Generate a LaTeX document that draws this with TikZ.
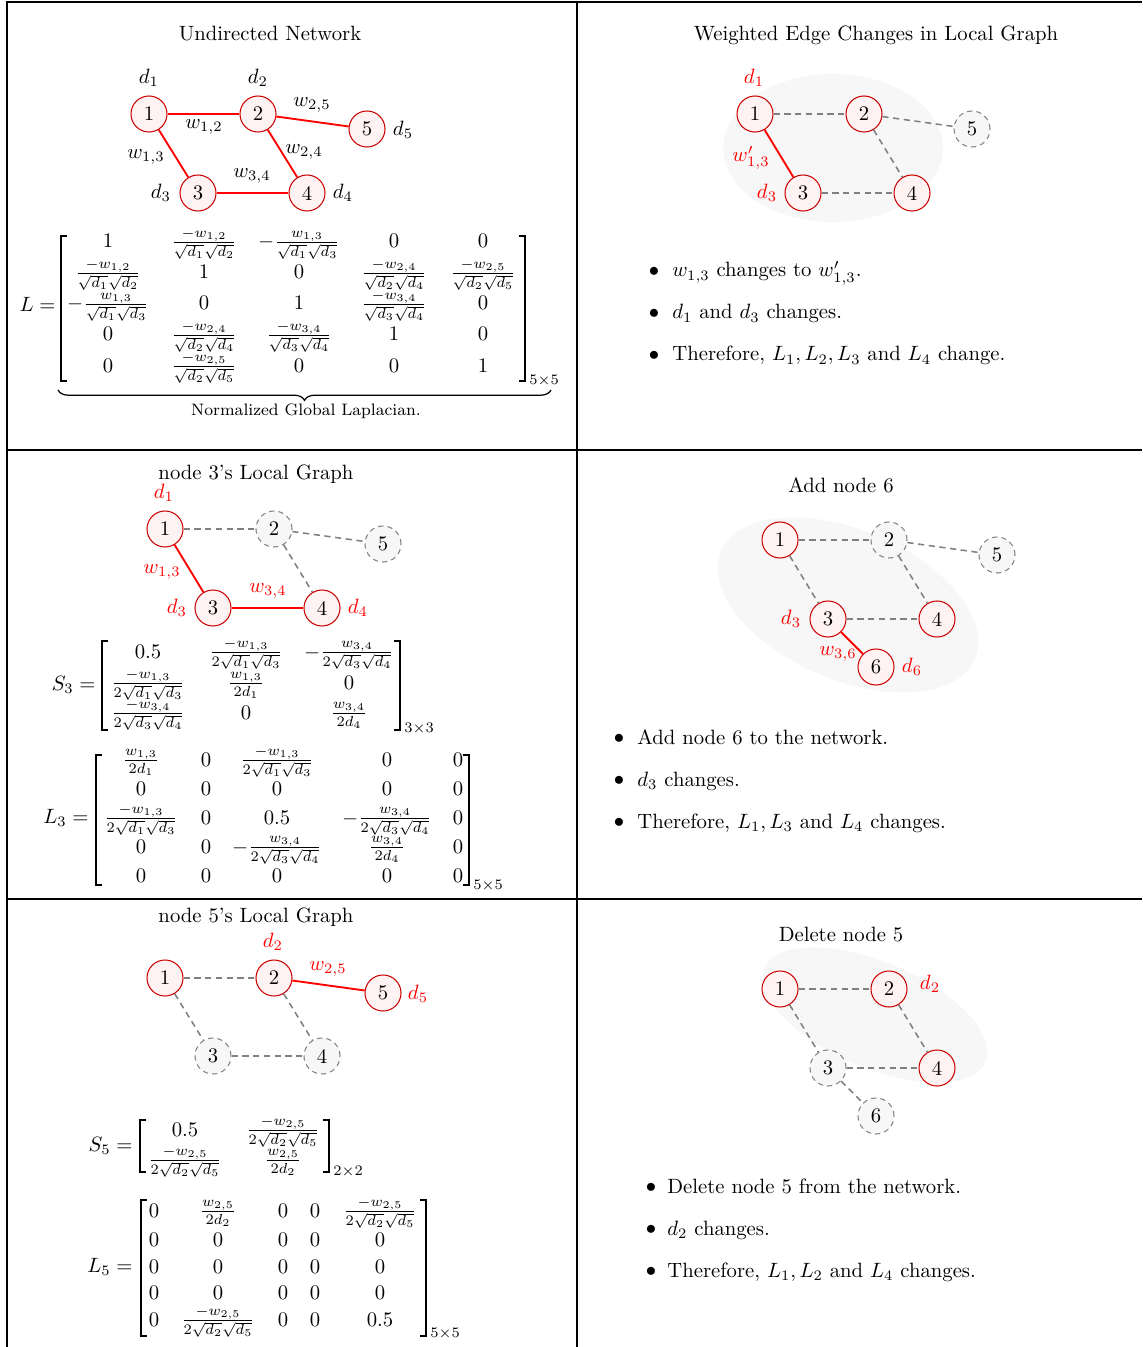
\documentclass[tikz,border=0pt]{standalone}
\usetikzlibrary{decorations.pathreplacing}
\newcommand\fq[3]{\frac{#1}{\sqrt{d_{#2}}\sqrt{d_{#3}}}}
\newcommand\fh[3]{\frac{#1}{2\sqrt{d_{#2}}\sqrt{d_{#3}}}}
\begin{document}
\begin{tikzpicture}[x=0.483pt,y=-0.483pt,
 nd/.style={circle,draw=red!80!black,fill=red!5,minimum size=17.4pt,inner sep=0pt,line width=0.5pt},
 dn/.style={circle,draw=gray,dash pattern=on 2.5pt off 2pt,fill=gray!6,minimum size=17.4pt,inner sep=0pt,line width=0.5pt},
 re/.style={red,line width=0.9pt},
 de/.style={gray,dash pattern=on 3pt off 2.2pt,line width=0.75pt},
 lb/.style={inner sep=0pt},
 rl/.style={text=red,inner sep=0pt},
 en/.style={anchor=base,inner sep=0pt},
 tt/.style={anchor=base,inner sep=0pt},
 bl/.style={anchor=base west,inner sep=0pt},
 bu/.style={inner sep=0pt},
 fr/.style={line width=0.5pt},
 bg/.style={fill=black!3},
 brk/.style={line width=0.9pt},
 sb/.style={anchor=west,inner sep=0pt}
]
\useasboundingbox (0,0) rectangle (1142,1347);
% frame
\draw[fr] (7,1347) -- (7,2) -- (1142,2);
\draw[fr] (577,2) -- (577,1347);
\draw[fr] (7,450) -- (1142,450);
\draw[fr] (7,899) -- (1142,899);

% ================= top-left =================
\node[tt] (t1) at (270,41) {Undirected Network};
\node[nd] (a1) at (149,114) {1};
\node[nd] (a2) at (258,114) {2};
\node[nd] (a5) at (367,129) {5};
\node[nd] (a3) at (198,193) {3};
\node[nd] (a4) at (307,193) {4};
\draw[re] (a1) -- (a2);
\draw[re] (a2) -- (a5);
\draw[re] (a1) -- (a3);
\draw[re] (a2) -- (a4);
\draw[re] (a3) -- (a4);
\node[lb] (ad1) at (149,78) {$d_1$};
\node[lb] (ad2) at (258,78) {$d_2$};
\node[lb] (ad5) at (403,130) {$d_5$};
\node[lb] (ad3) at (161,193) {$d_3$};
\node[lb] (ad4) at (343,193) {$d_4$};
\node[lb] (aw12) at (204,127) {$w_{1,2}$};
\node[lb] (aw25) at (312,105) {$w_{2,5}$};
\node[lb] (aw13) at (146,157) {$w_{1,3}$};
\node[lb] (aw24) at (304,152) {$w_{2,4}$};
\node[lb] (aw34) at (252,176) {$w_{3,4}$};
% matrix L
\node[anchor=base east,inner sep=0pt] (Lname) at (56,312) {$L=$};
\draw[brk] (67,236) -- (61,236) -- (61,381) -- (67,381);
\draw[brk] (519,236) -- (525,236) -- (525,381) -- (519,381);
\node[sb] (Lsub) at (529,381) {$\scriptstyle 5\times5$};
\node[en] (L11) at (108,248) {$1$};
\node[en] (L12) at (204,248) {$\fq{-w_{1,2}}{1}{2}$};
\node[en] (L13) at (299,248) {$-\fq{w_{1,3}}{1}{3}$};
\node[en] (L14) at (394,248) {$0$};
\node[en] (L15) at (483,248) {$0$};
\node[en] (L21) at (108,279) {$\fq{-w_{1,2}}{1}{2}$};
\node[en] (L22) at (204,279) {$1$};
\node[en] (L23) at (299,279) {$0$};
\node[en] (L24) at (394,279) {$\fq{-w_{2,4}}{2}{4}$};
\node[en] (L25) at (483,279) {$\fq{-w_{2,5}}{2}{5}$};
\node[en] (L31) at (108,310) {$-\fq{w_{1,3}}{1}{3}$};
\node[en] (L32) at (204,310) {$0$};
\node[en] (L33) at (299,310) {$1$};
\node[en] (L34) at (394,310) {$\fq{-w_{3,4}}{3}{4}$};
\node[en] (L35) at (483,310) {$0$};
\node[en] (L41) at (108,341) {$0$};
\node[en] (L42) at (204,341) {$\fq{-w_{2,4}}{2}{4}$};
\node[en] (L43) at (299,341) {$\fq{-w_{3,4}}{3}{4}$};
\node[en] (L44) at (394,341) {$1$};
\node[en] (L45) at (483,341) {$0$};
\node[en] (L51) at (108,372) {$0$};
\node[en] (L52) at (204,372) {$\fq{-w_{2,5}}{2}{5}$};
\node[en] (L53) at (299,372) {$0$};
\node[en] (L54) at (394,372) {$0$};
\node[en] (L55) at (483,372) {$1$};
\coordinate (bra) at (58,390);
\coordinate (brb) at (551,390);
\draw[decorate,decoration={brace,mirror,amplitude=5pt},line width=0.6pt] (bra) -- (brb);
\node[lb,font=\footnotesize] (brl) at (306,411) {Normalized Global Laplacian.};

% ================= top-right =================
\fill[bg] (833,148) ellipse [x radius=110, y radius=74];
\node[tt] (t2) at (876,41) {Weighted Edge Changes in Local Graph};
\node[nd] (b1) at (755,114) {1};
\node[nd] (b2) at (864,114) {2};
\node[dn] (b5) at (972,129) {5};
\node[nd] (b3) at (803,193) {3};
\node[nd] (b4) at (912,193) {4};
\draw[de] (b1) -- (b2);
\draw[de] (b2) -- (b5);
\draw[de] (b2) -- (b4);
\draw[de] (b3) -- (b4);
\draw[re] (b1) -- (b3);
\node[rl] (bd1) at (754,78) {$d_1$};
\node[rl] (bw13) at (751,158) {$w'_{1,3}$};
\node[rl] (bd3) at (767,193) {$d_3$};
\node[bu] (bu1) at (654,272) {$\bullet$};
\node[bu] (bu2) at (654,314) {$\bullet$};
\node[bu] (bu3) at (654,356) {$\bullet$};
\node[bl] (bb1) at (672,277) {$w_{1,3}$ changes to $w'_{1,3}$.};
\node[bl] (bb2) at (672,319) {$d_1$ and $d_3$ changes.};
\node[bl] (bb3) at (672,361) {Therefore, $L_1, L_2, L_3$ and $L_4$ change.};

% ================= middle-left =================
\node[tt] (t3) at (256,479) {node 3's Local Graph};
\node[nd] (c1) at (165,529) {1};
\node[dn] (c2) at (274,529) {2};
\node[dn] (c5) at (383,544) {5};
\node[nd] (c3) at (213,608) {3};
\node[nd] (c4) at (322,608) {4};
\draw[de] (c1) -- (c2);
\draw[de] (c2) -- (c5);
\draw[de] (c2) -- (c4);
\draw[re] (c1) -- (c3);
\draw[re] (c3) -- (c4);
\node[rl] (cd1) at (164,493) {$d_1$};
\node[rl] (cw13) at (162,572) {$w_{1,3}$};
\node[rl] (cw34) at (268,591) {$w_{3,4}$};
\node[rl] (cd3) at (177,608) {$d_3$};
\node[rl] (cd4) at (358,608) {$d_4$};
% S3
\node[anchor=base east,inner sep=0pt] (S3name) at (96,690) {$S_3=$};
\draw[brk] (108,641) -- (102,641) -- (102,730) -- (108,730);
\draw[brk] (394,641) -- (400,641) -- (400,730) -- (394,730);
\node[sb] (S3sub) at (404,729) {$\scriptstyle 3\times3$};
\node[en] (S11) at (148,658) {$0.5$};
\node[en] (S12) at (246,658) {$\fh{-w_{1,3}}{1}{3}$};
\node[en] (S13) at (349,658) {$-\fh{w_{3,4}}{3}{4}$};
\node[en] (S21) at (148,689) {$\fh{-w_{1,3}}{1}{3}$};
\node[en] (S22) at (246,689) {$\frac{w_{1,3}}{2d_1}$};
\node[en] (S23) at (349,689) {$0$};
\node[en] (S31) at (148,719) {$\fh{-w_{3,4}}{3}{4}$};
\node[en] (S32) at (246,719) {$0$};
\node[en] (S33) at (349,719) {$\frac{w_{3,4}}{2d_4}$};
% L3
\node[anchor=base east,inner sep=0pt] (L3name) at (89,823) {$L_3=$};
\draw[brk] (102,755) -- (96,755) -- (96,885) -- (102,885);
\draw[brk] (463,755) -- (469,755) -- (469,885) -- (463,885);
\node[sb] (L3sub) at (473,886) {$\scriptstyle 5\times5$};
\node[en] (M11) at (141,766) {$\frac{w_{1,3}}{2d_1}$};
\node[en] (M12) at (206,766) {$0$};
\node[en] (M13) at (277,766) {$\fh{-w_{1,3}}{1}{3}$};
\node[en] (M14) at (387,766) {$0$};
\node[en] (M15) at (458,766) {$0$};
\node[en] (M21) at (141,795) {$0$};
\node[en] (M22) at (206,795) {$0$};
\node[en] (M23) at (277,795) {$0$};
\node[en] (M24) at (387,795) {$0$};
\node[en] (M25) at (458,795) {$0$};
\node[en] (M31) at (141,824) {$\fh{-w_{1,3}}{1}{3}$};
\node[en] (M32) at (206,824) {$0$};
\node[en] (M33) at (277,824) {$0.5$};
\node[en] (M34) at (387,824) {$-\fh{w_{3,4}}{3}{4}$};
\node[en] (M35) at (458,824) {$0$};
\node[en] (M41) at (141,853) {$0$};
\node[en] (M42) at (206,853) {$0$};
\node[en] (M43) at (277,853) {$-\fh{w_{3,4}}{3}{4}$};
\node[en] (M44) at (387,853) {$\frac{w_{3,4}}{2d_4}$};
\node[en] (M45) at (458,853) {$0$};
\node[en] (M51) at (141,882) {$0$};
\node[en] (M52) at (206,882) {$0$};
\node[en] (M53) at (277,882) {$0$};
\node[en] (M54) at (387,882) {$0$};
\node[en] (M55) at (458,882) {$0$};

% ================= middle-right =================
\fill[bg,rotate around={-23:(848,605)}] (848,605) ellipse [x radius=138, y radius=75];
\node[tt] (t4) at (841,492) {Add node 6};
\node[nd] (e1) at (780,540) {1};
\node[dn] (e2) at (889,540) {2};
\node[dn] (e5) at (997,555) {5};
\node[nd] (e3) at (828,619) {3};
\node[nd] (e4) at (937,619) {4};
\node[nd] (e6) at (876,667) {6};
\draw[de] (e1) -- (e2);
\draw[de] (e2) -- (e5);
\draw[de] (e1) -- (e3);
\draw[de] (e2) -- (e4);
\draw[de] (e3) -- (e4);
\draw[re] (e3) -- (e6);
\node[rl] (ed3) at (791,619) {$d_3$};
\node[rl] (ew36) at (838,654) {$w_{3,6}$};
\node[rl] (ed6) at (912,667) {$d_6$};
\node[bu] (eu1) at (619,739) {$\bullet$};
\node[bu] (eu2) at (619,781) {$\bullet$};
\node[bu] (eu3) at (619,823) {$\bullet$};
\node[bl] (eb1) at (637,744) {Add node 6 to the network.};
\node[bl] (eb2) at (637,786) {$d_3$ changes.};
\node[bl] (eb3) at (637,828) {Therefore, $L_1, L_3$ and $L_4$ changes.};

% ================= bottom-left =================
\node[tt] (t5) at (256,922) {node 5's Local Graph};
\node[nd] (f1) at (165,978) {1};
\node[nd] (f2) at (274,978) {2};
\node[nd] (f5) at (383,993) {5};
\node[dn] (f3) at (213,1056) {3};
\node[dn] (f4) at (322,1056) {4};
\draw[de] (f1) -- (f2);
\draw[de] (f1) -- (f3);
\draw[de] (f2) -- (f4);
\draw[de] (f3) -- (f4);
\draw[re] (f2) -- (f5);
\node[rl] (fd2) at (273,942) {$d_2$};
\node[rl] (fw25) at (328,969) {$w_{2,5}$};
\node[rl] (fd5) at (418,994) {$d_5$};
% S5
\node[anchor=base east,inner sep=0pt] (S5name) at (133,1151) {$S_5=$};
\draw[brk] (146,1120) -- (140,1120) -- (140,1172) -- (146,1172);
\draw[brk] (323,1120) -- (329,1120) -- (329,1172) -- (323,1172);
\node[sb] (S5sub) at (333,1172) {$\scriptstyle 2\times2$};
\node[en] (T11) at (185,1136) {$0.5$};
\node[en] (T12) at (283,1136) {$\fh{-w_{2,5}}{2}{5}$};
\node[en] (T21) at (185,1166) {$\fh{-w_{2,5}}{2}{5}$};
\node[en] (T22) at (283,1166) {$\frac{w_{2,5}}{2d_2}$};
% L5
\node[anchor=base east,inner sep=0pt] (L5name) at (133,1272) {$L_5=$};
\draw[brk] (147,1200) -- (141,1200) -- (141,1336) -- (147,1336);
\draw[brk] (420,1200) -- (426,1200) -- (426,1336) -- (420,1336);
\node[sb] (L5sub) at (430,1334) {$\scriptstyle 5\times5$};
\node[en] (N11) at (154,1217) {$0$};
\node[en] (N12) at (218,1217) {$\frac{w_{2,5}}{2d_2}$};
\node[en] (N13) at (283,1217) {$0$};
\node[en] (N14) at (315,1217) {$0$};
\node[en] (N15) at (380,1217) {$\fh{-w_{2,5}}{2}{5}$};
\node[en] (N21) at (154,1246) {$0$};
\node[en] (N22) at (218,1246) {$0$};
\node[en] (N23) at (283,1246) {$0$};
\node[en] (N24) at (315,1246) {$0$};
\node[en] (N25) at (380,1246) {$0$};
\node[en] (N31) at (154,1273) {$0$};
\node[en] (N32) at (218,1273) {$0$};
\node[en] (N33) at (283,1273) {$0$};
\node[en] (N34) at (315,1273) {$0$};
\node[en] (N35) at (380,1273) {$0$};
\node[en] (N41) at (154,1299) {$0$};
\node[en] (N42) at (218,1299) {$0$};
\node[en] (N43) at (283,1299) {$0$};
\node[en] (N44) at (315,1299) {$0$};
\node[en] (N45) at (380,1299) {$0$};
\node[en] (N51) at (154,1326) {$0$};
\node[en] (N52) at (218,1326) {$\fh{-w_{2,5}}{2}{5}$};
\node[en] (N53) at (283,1326) {$0$};
\node[en] (N54) at (315,1326) {$0$};
\node[en] (N55) at (380,1326) {$0.5$};

% ================= bottom-right =================
\fill[bg,rotate around={-23:(875,1015)}] (875,1015) ellipse [x radius=120, y radius=53];
\node[tt] (t6) at (841,941) {Delete node 5};
\node[nd] (g1) at (780,989) {1};
\node[nd] (g2) at (889,989) {2};
\node[nd] (g4) at (937,1068) {4};
\node[dn] (g3) at (828,1068) {3};
\node[dn] (g6) at (876,1116) {6};
\draw[de] (g1) -- (g2);
\draw[de] (g1) -- (g3);
\draw[de] (g2) -- (g4);
\draw[de] (g3) -- (g4);
\draw[de] (g3) -- (g6);
\node[rl] (gd2) at (930,984) {$d_2$};
\node[bu] (gu1) at (651,1188) {$\bullet$};
\node[bu] (gu2) at (651,1230) {$\bullet$};
\node[bu] (gu3) at (651,1272) {$\bullet$};
\node[bl] (gb1) at (667,1193) {Delete node 5 from the network.};
\node[bl] (gb2) at (667,1235) {$d_2$ changes.};
\node[bl] (gb3) at (667,1277) {Therefore, $L_1, L_2$ and $L_4$ changes.};
\end{tikzpicture}
\end{document}
